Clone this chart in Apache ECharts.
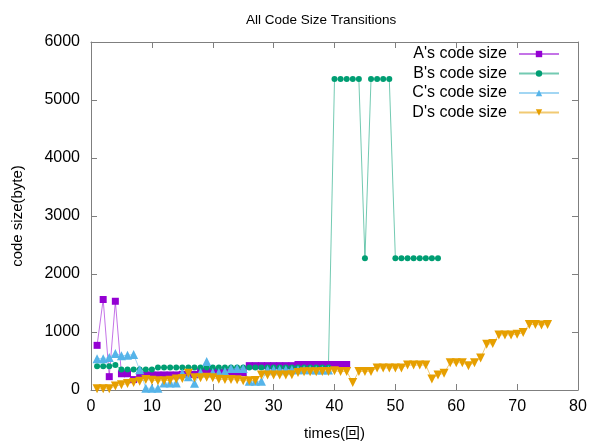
<!DOCTYPE html>
<html>
<head>
<meta charset="utf-8">
<script src="https://cdn.jsdelivr.net/npm/echarts@6/dist/echarts.min.js"></script>
<style>
  html, body { margin: 0; padding: 0; background: #fff; }
  #main { width: 590px; height: 443px; }
</style>
</head>
<body>
<div id="main"></div>
<script>
// code size per run, index 0 = times 1
var seriesNames = ["A's code size", "B's code size", "C's code size", "D's code size"];

var aSize = [770, 1560, 230, 1530, 280, 280, 180, 250, 260, 260,
             260, 260, 260, 260, 270, 270, 270, 320, 320, 320,
             310, 310, 300, 300, 300, 420, 420, 420, 420, 420,
             420, 420, 420, 440, 440, 440, 440, 440, 440, 440,
             440, 440];

var bSize = [410, 410, 410, 430, 355, 355, 355, 355, 355, 355,
             390, 390, 390, 390, 390, 390, 390, 390, 390, 390,
             390, 390, 390, 390, 390, 390, 390, 390, 390, 390,
             390, 390, 390, 390, 390, 390, 390, 390, 390, 5360,
             5360, 5360, 5360, 5360, 2270, 5360, 5360, 5360, 5360, 2270,
             2270, 2270, 2270, 2270, 2270, 2270, 2270];

var cSize = [540, 540, 560, 630, 590, 600, 610, 350, 30, 30,
             30, 120, 120, 120, 290, 230, 115, 300, 490, 300,
             300, 320, 370, 370, 370, 150, 150, 150, 350, 350,
             350, 350, 350, 350, 350, 350, 345, 345, 345];

var dSize = [20, 20, 20, 70, 90, 110, 130, 150, 180, 170,
             160, 160, 170, 190, 200, 290, 210, 210, 220, 210,
             185, 180, 180, 175, 160, 160, 165, 260, 260, 260,
             260, 260, 265, 300, 315, 315, 315, 320, 320, 330,
             320, 320, 130, 320, 320, 320, 380, 380, 380, 380,
             380, 430, 430, 430, 430, 190, 260, 290, 470, 470,
             470, 420, 470, 550, 790, 800, 950, 950, 950, 960,
             990, 1130, 1130, 1120, 1130];

var xTicks = [0, 10, 20, 30, 40, 50, 60, 70, 80];
var yTicks = [0, 1000, 2000, 3000, 4000, 5000, 6000];

function toPoints(arr) {
  return arr.map(function (v, i) { return [i + 1, v]; });
}

var font = 'Liberation Sans, Arial, "Noto Sans CJK JP", sans-serif';
var axisGray = '#7f7f7f';

var chart = echarts.init(document.getElementById('main'), null, { renderer: 'canvas' });

function mkSeries(name, arr, color, symbol, size, rotate) {
  return {
    name: name,
    type: 'line',
    data: toPoints(arr),
    symbol: symbol,
    symbolSize: size,
    symbolRotate: rotate || 0,
    showAllSymbol: true,
    color: color,
    itemStyle: { color: color, borderWidth: 0 },
    lineStyle: { color: color, width: 1, opacity: 0.55 },
    emphasis: { disabled: true }
  };
}

function tickAxis(extra) {
  var base = {
    type: 'value',
    axisLine: { show: true, onZero: false, lineStyle: { color: axisGray, width: 1 } },
    axisTick: { show: true, inside: true, length: 6, lineStyle: { color: axisGray } },
    splitLine: { show: false }
  };
  for (var k in extra) base[k] = extra[k];
  return base;
}

chart.setOption({
  animation: false,
  backgroundColor: '#fff',
  title: {
    text: 'All Code Size Transitions',
    left: 241,
    top: 9,
    textStyle: { fontFamily: font, fontSize: 13.5, fontWeight: 'normal', color: '#000' }
  },
  legend: {
    orient: 'vertical',
    right: 30,
    top: 46,
    padding: 0,
    align: 'right',
    itemWidth: 40,
    itemHeight: 8,
    itemGap: 3.5,
    data: seriesNames,
    textStyle: { fontFamily: font, fontSize: 16, color: '#000', padding: [0, 7, 0, 0] }
  },
  grid: { left: 91, right: 12, top: 42, bottom: 53, containLabel: false, outerBoundsMode: 'none' },
  xAxis: [tickAxis({
    min: xTicks[0], max: xTicks[xTicks.length - 1], interval: 10,
    name: 'times(回)',
    nameLocation: 'middle',
    nameGap: 36,
    nameTextStyle: { fontFamily: font, fontSize: 15, color: '#000' },
    axisLabel: { fontFamily: font, fontSize: 16, color: '#000', margin: 9 }
  }), tickAxis({
    position: 'top',
    min: xTicks[0], max: xTicks[xTicks.length - 1], interval: 10,
    axisLabel: { show: false }
  })],
  yAxis: [tickAxis({
    min: yTicks[0], max: yTicks[yTicks.length - 1], interval: 1000,
    name: 'code size(byte)',
    nameLocation: 'middle',
    nameGap: 66,
    nameRotate: 90,
    nameTextStyle: { fontFamily: font, fontSize: 15, color: '#000' },
    axisLabel: { fontFamily: font, fontSize: 16, color: '#000', margin: 11,
                 formatter: function (v) { return String(v); } }
  }), tickAxis({
    position: 'right',
    min: yTicks[0], max: yTicks[yTicks.length - 1], interval: 1000,
    axisLabel: { show: false }
  })],
  series: [
    mkSeries(seriesNames[0], aSize, '#9400d3', 'rect', 7),
    mkSeries(seriesNames[1], bSize, '#009e73', 'circle', 6),
    mkSeries(seriesNames[2], cSize, '#56b4e9', 'triangle', 9),
    mkSeries(seriesNames[3], dSize, '#e69f00', 'triangle', 9, 180)
  ]
});
</script>
</body>
</html>
